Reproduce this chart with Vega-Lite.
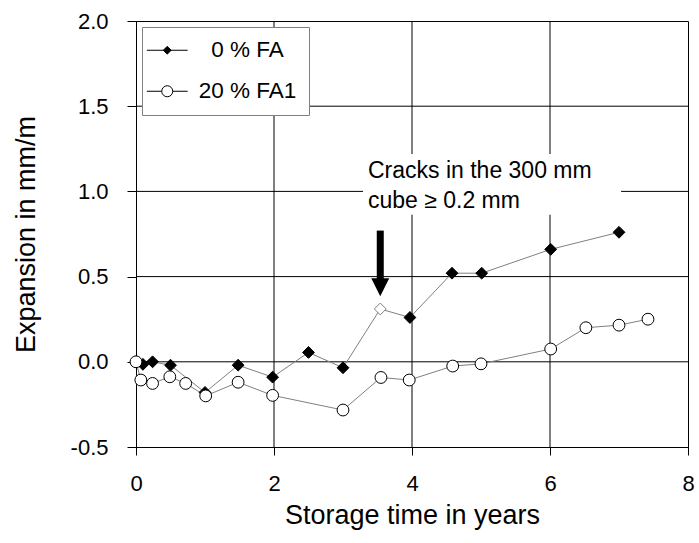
{
  "$schema": "https://vega.github.io/schema/vega-lite/v6.json",
  "width": 552,
  "height": 426,
  "autosize": {"type": "none"},
  "padding": {"left": 136, "top": 21, "right": 11, "bottom": 96},
  "background": "white",
  "config": {
    "font": "Liberation Sans",
    "view": {"stroke": "black", "strokeWidth": 1},
    "axis": {
      "labelFont": "Liberation Sans",
      "titleFont": "Liberation Sans",
      "labelColor": "black",
      "titleColor": "black",
      "titleFontWeight": "normal",
      "labelFontSize": 22,
      "titleFontSize": 27,
      "domainColor": "black",
      "tickColor": "black"
    }
  },
  "resolve": {"scale": {"shape": "independent", "fill": "independent"}},
  "encoding": {
    "x": {
      "field": "x",
      "type": "quantitative",
      "scale": {"domain": [0, 8], "nice": false, "zero": false},
      "axis": {"title": "Storage time in years", "grid": false, "values": [0, 2, 4, 6, 8], "labelFlush": false, "tickSize": 8, "labelPadding": 18, "titlePadding": 8}
    },
    "y": {
      "field": "y",
      "type": "quantitative",
      "scale": {"domain": [-0.5, 2], "nice": false, "zero": false},
      "axis": {
        "title": "Expansion in mm/m",
        "grid": false,
        "values": [-0.5, 0, 0.5, 1, 1.5, 2],
        "labelFlush": false,
        "labelExpr": "datum.value < 0 ? '-' + format(-datum.value, '.1f') : format(datum.value, '.1f')",
        "tickSize": 9,
        "labelPadding": 19,
        "titlePadding": 30
      }
    }
  },
  "layer": [
    {
      "data": {"values": [{"x": 2, "y": -0.5, "y2": 2}, {"x": 4, "y": -0.5, "y2": 2}, {"x": 6, "y": -0.5, "y2": 2}]},
      "mark": {"type": "rule", "color": "black", "strokeWidth": 1},
      "encoding": {"y2": {"field": "y2"}}
    },
    {
      "data": {"values": [{"x": 0, "x2": 8, "y": 0}, {"x": 0, "x2": 8, "y": 0.5}, {"x": 0, "x2": 8, "y": 1}, {"x": 0, "x2": 8, "y": 1.5}]},
      "mark": {"type": "rule", "color": "black", "strokeWidth": 1},
      "encoding": {"x2": {"field": "x2"}}
    },
    {
      "data": {"values": [{"x": 3.29, "x2": 7.03, "y": 0.863, "y2": 1.219}]},
      "mark": {"type": "rect", "fill": "white", "stroke": null},
      "encoding": {"x2": {"field": "x2"}, "y2": {"field": "y2"}}
    },
    {
      "data": {"values": [{"x": 3.362, "y": 1.078, "label": ["Cracks in the 300 mm", "cube ≥ 0.2 mm"]}]},
      "mark": {"type": "text", "align": "left", "baseline": "alphabetic", "fontSize": 23, "lineHeight": 30, "font": "Liberation Sans", "color": "black"},
      "encoding": {"text": {"field": "label"}}
    },
    {
      "data": {"name": "series"},
      "mark": {"type": "line", "color": "#808080", "strokeWidth": 1},
      "encoding": {"detail": {"field": "s"}}
    },
    {
      "data": {"name": "series"},
      "transform": [{"filter": "!datum.open"}],
      "mark": {"type": "point", "filled": true, "stroke": "black", "strokeWidth": 1, "size": 140, "opacity": 1},
      "encoding": {
        "shape": {
          "field": "s",
          "type": "nominal",
          "scale": {"domain": ["0 % FA", "20 % FA1"], "range": ["diamond", "circle"]},
          "legend": null
        },
        "fill": {
          "field": "s",
          "type": "nominal",
          "scale": {"domain": ["0 % FA", "20 % FA1"], "range": ["black", "white"]},
          "legend": null
        }
      }
    },
    {
      "data": {"name": "series"},
      "transform": [{"filter": "datum.open"}],
      "mark": {"type": "point", "shape": "diamond", "filled": true, "fill": "white", "stroke": "#808080", "strokeWidth": 1, "size": 140, "opacity": 1}
    },
    {
      "data": {"name": "series"},
      "transform": [{"filter": "false"}],
      "mark": {"type": "point", "filled": true, "stroke": "black", "strokeWidth": 1, "size": 144, "opacity": 1},
      "encoding": {
        "shape": {
          "field": "s",
          "type": "nominal",
          "scale": {"domain": ["0 % FA", "20 % FA1"], "range": ["M-3.4,0H3.4M-0.65,0L0,-0.65L0.65,0L0,0.65Z", "M-3.4,0H-0.92A0.92,0.92,0,1,1,0.92,0A0.92,0.92,0,1,1,-0.92,0M0.92,0H3.4"]},
          "legend": {
            "title": null,
            "orient": "none",
            "legendX": 6,
            "legendY": 6,
            "padding": 12,
            "fillColor": "white",
            "strokeColor": "#808080",
            "symbolSize": 144,
            "symbolOffset": 2,
            "symbolStrokeWidth": 1,
            "symbolOpacity": 1,
            "labelOffset": 69,
            "labelAlign": "center",
            "rowPadding": 18,
            "labelFont": "Liberation Sans",
            "labelFontSize": 22.5,
            "labelColor": "black"
          }
        },
        "fill": {
          "field": "s",
          "type": "nominal",
          "scale": {"domain": ["0 % FA", "20 % FA1"], "range": ["black", "white"]},
          "legend": {
            "title": null,
            "orient": "none",
            "legendX": 6,
            "legendY": 6,
            "padding": 12,
            "fillColor": "white",
            "strokeColor": "#808080",
            "symbolSize": 144,
            "symbolOffset": 2,
            "symbolStrokeWidth": 1,
            "symbolOpacity": 1,
            "labelOffset": 69,
            "labelAlign": "center",
            "rowPadding": 18,
            "labelFont": "Liberation Sans",
            "labelFontSize": 22.5,
            "labelColor": "black"
          }
        }
      }
    },
    {
      "data": {"values": [{"x": 3.54, "y": 0.77, "y2": 0.47}]},
      "mark": {"type": "rule", "color": "black", "strokeWidth": 7, "strokeCap": "butt"},
      "encoding": {"y2": {"field": "y2"}}
    },
    {
      "data": {"values": [{"x": 3.54, "y": 0.438}]},
      "mark": {"type": "point", "shape": "M-1,-1L1,-1L0,1Z", "filled": true, "fill": "black", "stroke": null, "size": 324, "opacity": 1}
    }
  ],
  "datasets": {
    "series": [
      {"s": "0 % FA", "x": 0, "y": 0, "open": false},
      {"s": "0 % FA", "x": 0.1, "y": -0.015, "open": false},
      {"s": "0 % FA", "x": 0.24, "y": 0.0, "open": false},
      {"s": "0 % FA", "x": 0.5, "y": -0.02, "open": false},
      {"s": "0 % FA", "x": 1.0, "y": -0.18, "open": false},
      {"s": "0 % FA", "x": 1.48, "y": -0.02, "open": false},
      {"s": "0 % FA", "x": 1.98, "y": -0.09, "open": false},
      {"s": "0 % FA", "x": 2.5, "y": 0.055, "open": false},
      {"s": "0 % FA", "x": 3.0, "y": -0.035, "open": false},
      {"s": "0 % FA", "x": 3.54, "y": 0.31, "open": true},
      {"s": "0 % FA", "x": 3.97, "y": 0.26, "open": false},
      {"s": "0 % FA", "x": 4.58, "y": 0.52, "open": false},
      {"s": "0 % FA", "x": 5.01, "y": 0.52, "open": false},
      {"s": "0 % FA", "x": 6.01, "y": 0.66, "open": false},
      {"s": "0 % FA", "x": 7.0, "y": 0.76, "open": false},
      {"s": "20 % FA1", "x": 0.0, "y": 0.0, "open": false},
      {"s": "20 % FA1", "x": 0.07, "y": -0.107, "open": false},
      {"s": "20 % FA1", "x": 0.24, "y": -0.127, "open": false},
      {"s": "20 % FA1", "x": 0.49, "y": -0.088, "open": false},
      {"s": "20 % FA1", "x": 0.72, "y": -0.127, "open": false},
      {"s": "20 % FA1", "x": 1.01, "y": -0.2, "open": false},
      {"s": "20 % FA1", "x": 1.48, "y": -0.12, "open": false},
      {"s": "20 % FA1", "x": 1.98, "y": -0.197, "open": false},
      {"s": "20 % FA1", "x": 3.0, "y": -0.283, "open": false},
      {"s": "20 % FA1", "x": 3.55, "y": -0.092, "open": false},
      {"s": "20 % FA1", "x": 3.96, "y": -0.107, "open": false},
      {"s": "20 % FA1", "x": 4.59, "y": -0.025, "open": false},
      {"s": "20 % FA1", "x": 5.0, "y": -0.012, "open": false},
      {"s": "20 % FA1", "x": 6.01, "y": 0.075, "open": false},
      {"s": "20 % FA1", "x": 6.52, "y": 0.2, "open": false},
      {"s": "20 % FA1", "x": 7.0, "y": 0.215, "open": false},
      {"s": "20 % FA1", "x": 7.42, "y": 0.25, "open": false}
    ]
  }
}
